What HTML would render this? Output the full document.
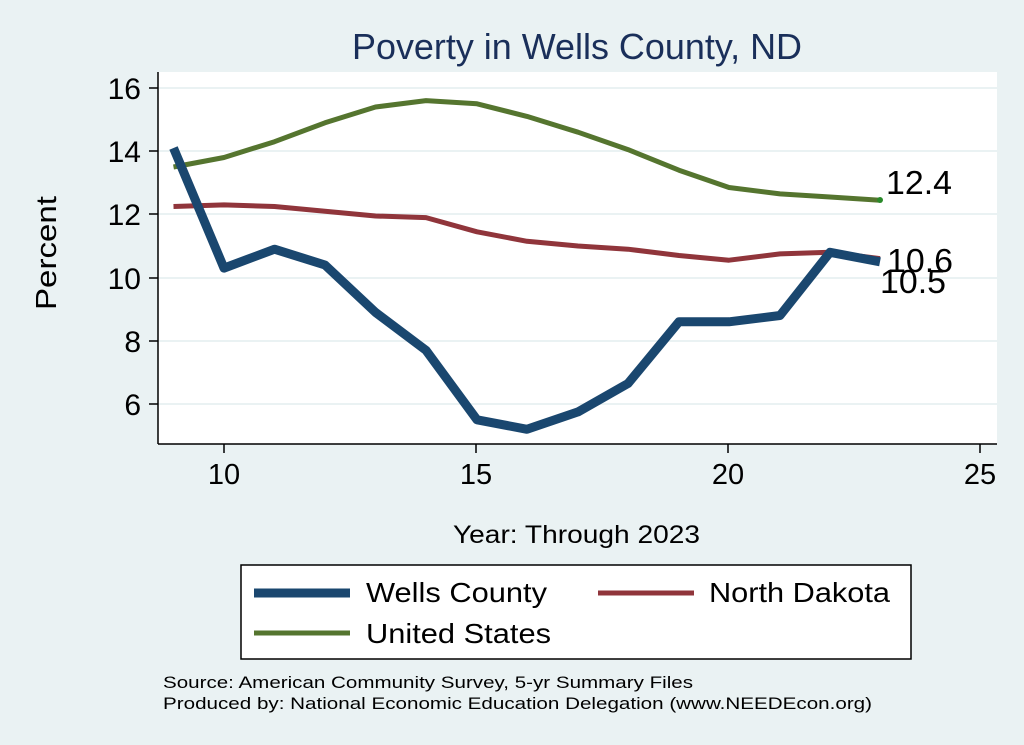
<!DOCTYPE html>
<html><head><meta charset="utf-8"><style>
html,body{margin:0;padding:0;background:#eaf2f3;}
svg{display:block;font-family:"Liberation Sans",Arial,sans-serif;}
</style></head><body>
<svg width="1024" height="745" viewBox="0 0 1024 745">
<rect width="1024" height="745" fill="#eaf2f3"/>
<rect x="158" y="72" width="839" height="372" fill="#ffffff"/>
<g stroke="#eaf2f3" stroke-width="2">
<line x1="158" x2="997" y1="88" y2="88"/><line x1="158" x2="997" y1="151" y2="151"/>
<line x1="158" x2="997" y1="214" y2="214"/><line x1="158" x2="997" y1="278" y2="278"/>
<line x1="158" x2="997" y1="341" y2="341"/><line x1="158" x2="997" y1="404" y2="404"/>
</g>
<g stroke="#000" stroke-width="1.5">
<line x1="158" y1="72" x2="158" y2="444"/><line x1="158" y1="444" x2="997" y2="444"/>
<line x1="149" x2="158" y1="88" y2="88"/><line x1="149" x2="158" y1="151" y2="151"/>
<line x1="149" x2="158" y1="214" y2="214"/><line x1="149" x2="158" y1="278" y2="278"/>
<line x1="149" x2="158" y1="341" y2="341"/><line x1="149" x2="158" y1="404" y2="404"/>
<line x1="224" x2="224" y1="444" y2="453"/><line x1="476" x2="476" y1="444" y2="453"/>
<line x1="728" x2="728" y1="444" y2="453"/><line x1="980" x2="980" y1="444" y2="453"/>
</g>
<g font-size="30" text-anchor="end" fill="#000">
<text x="141" y="99">16</text><text x="141" y="162">14</text><text x="141" y="225">12</text>
<text x="141" y="289">10</text><text x="141" y="352">8</text><text x="141" y="415">6</text>
</g>
<g font-size="29" text-anchor="middle" fill="#000">
<text x="224" y="484">10</text><text x="476" y="484">15</text><text x="728" y="484">20</text><text x="980" y="484">25</text>
</g>
<text x="352" y="59" font-size="36" fill="#1a2f5a" textLength="450" lengthAdjust="spacingAndGlyphs">Poverty in Wells County, ND</text>
<text transform="translate(56,310) rotate(-90)" font-size="29" textLength="114" lengthAdjust="spacingAndGlyphs">Percent</text>
<text x="453" y="543" font-size="25" textLength="247" lengthAdjust="spacingAndGlyphs">Year: Through 2023</text>
<g fill="none" stroke-linejoin="round">
<polyline stroke="#55752f" stroke-width="5" points="173.5,167 224,157.5 274.5,141.7 325,122.8 375.5,107 426,100.6 477,103.8 527,116.4 578,132.2 628,149.6 679,170.2 729,187.5 780,193.9 830,197 880,200.2"/>
<polyline stroke="#90353b" stroke-width="5" points="173.5,206.5 224,204.9 274.5,206.5 325,211.2 375.5,216 426,217.6 477,231.8 527,241.3 578,246 628,249.2 679,255.5 729,260.2 780,253.9 830,252.3 880,258.6"/>
<polyline stroke="#1a476f" stroke-width="9" points="173.5,148 224,268.1 274.5,249.2 325,265 375.5,312.4 426,350.3 477,419.8 527,429.3 578,411.9 628,383.5 679,321.8 729,321.8 780,315.5 830,252.3 880,261.8"/>
</g>
<circle cx="880" cy="200" r="3" fill="#2a8a2a"/>
<g font-size="33" fill="#000">
<text x="886" y="194" textLength="66" lengthAdjust="spacingAndGlyphs">12.4</text>
<text x="887" y="272" textLength="66" lengthAdjust="spacingAndGlyphs">10.6</text>
<text x="880" y="293" textLength="66" lengthAdjust="spacingAndGlyphs">10.5</text>
</g>
<rect x="241" y="565" width="670" height="94" fill="#fff" stroke="#000" stroke-width="1.5"/>
<line x1="254" x2="350" y1="593" y2="593" stroke="#1a476f" stroke-width="9"/>
<text x="366" y="602" font-size="28" textLength="181" lengthAdjust="spacingAndGlyphs">Wells County</text>
<line x1="598" x2="694" y1="593" y2="593" stroke="#90353b" stroke-width="5"/>
<text x="709" y="602" font-size="28" textLength="181" lengthAdjust="spacingAndGlyphs">North Dakota</text>
<line x1="254" x2="350" y1="633" y2="633" stroke="#55752f" stroke-width="5"/>
<text x="366" y="643" font-size="28" textLength="185" lengthAdjust="spacingAndGlyphs">United States</text>
<text x="163" y="688" font-size="17" textLength="530" lengthAdjust="spacingAndGlyphs">Source: American Community Survey, 5-yr Summary Files</text>
<text x="163" y="709" font-size="17" textLength="709" lengthAdjust="spacingAndGlyphs">Produced by: National Economic Education Delegation (www.NEEDEcon.org)</text>
</svg>
</body></html>
